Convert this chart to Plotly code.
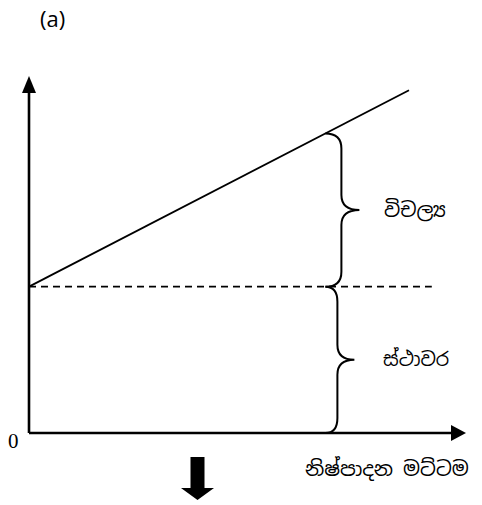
import plotly.graph_objects as go

# ---- data (abstract cost model) ----
output_levels = [0, 10]          # output range of the total cost line
fixed_cost = 4.1                 # fixed cost level
variable_cost_per_unit = 0.55    # slope of total cost line
dashed_end = 10.6                # extent of the fixed-cost dashed line
marked_output = 7.8              # output level at which braces are drawn
x_axis_max = 11.5
y_axis_max = 10.0
label_variable = "විචල්‍ය"
label_fixed = "ස්ථාවර"
label_x = "නිෂ්පාදන මට්ටම"
label_panel = "(a)"
label_origin = "0"

total_cost = [fixed_cost + variable_cost_per_unit * q for q in output_levels]
tc_marked = fixed_cost + variable_cost_per_unit * marked_output

# ---- style constants (pixel-to-unit scales) ----
PX_X = 38.0     # px per x unit
PX_Y = 35.7     # px per y unit
W, H = 482, 505
X0_PX, Y0_PX = 29, 433
x_range = [-X0_PX / PX_X, (W - X0_PX) / PX_X]
y_range = [-(H - Y0_PX) / PX_Y, Y0_PX / PX_Y]

def ux(px):
    return px / PX_X

def uy(px):
    return px / PX_Y

fig = go.Figure()

# axes lines
fig.add_trace(go.Scatter(x=[0, 0], y=[0, y_axis_max - uy(16)], mode="lines",
                         line=dict(color="black", width=2.6), hoverinfo="skip"))
fig.add_trace(go.Scatter(x=[0, x_axis_max - ux(14)], y=[0, 0], mode="lines",
                         line=dict(color="black", width=2.6), hoverinfo="skip"))
# total cost line
fig.add_trace(go.Scatter(x=output_levels, y=total_cost, mode="lines",
                         line=dict(color="black", width=1.8), hoverinfo="skip"))
# fixed cost dashed line
fig.add_trace(go.Scatter(x=[0, dashed_end], y=[fixed_cost, fixed_cost], mode="lines",
                         line=dict(color="black", width=1.6, dash="7px,5px"), hoverinfo="skip"))

shapes = []
# arrowheads
ah_w = ux(7)
ah_h = uy(17)
shapes.append(dict(type="path", xref="x", yref="y",
                   path=f"M {-ah_w},{y_axis_max-ah_h} L {ah_w},{y_axis_max-ah_h} L 0,{y_axis_max} Z",
                   fillcolor="black", line=dict(width=0)))
ax_h = uy(8)
ax_w = ux(15)
shapes.append(dict(type="path", xref="x", yref="y",
                   path=f"M {x_axis_max-ax_w},{-ax_h} L {x_axis_max-ax_w},{ax_h} L {x_axis_max},0 Z",
                   fillcolor="black", line=dict(width=0)))


def brace(x0, y_top, y_bot, bar_px, tip_px, curl_px=15):
    xb = x0 + ux(bar_px)
    xt = x0 + ux(tip_px)
    r = uy(curl_px)
    ym = (y_top + y_bot) / 2
    return (f"M {x0},{y_top} Q {xb},{y_top} {xb},{y_top - r} "
            f"L {xb},{ym + r} Q {xb},{ym} {xt},{ym} "
            f"Q {xb},{ym} {xb},{ym - r} "
            f"L {xb},{y_bot + r} Q {xb},{y_bot} {x0},{y_bot}")


shapes.append(dict(type="path", xref="x", yref="y",
                   path=brace(marked_output, tc_marked, fixed_cost, 16, 34),
                   line=dict(color="black", width=2)))
shapes.append(dict(type="path", xref="x", yref="y",
                   path=brace(marked_output, fixed_cost, 0, 12, 29),
                   line=dict(color="black", width=2)))

# thick down arrow below the chart
da_x = ux(197.5 - X0_PX)
sw = ux(7)
hw = ux(16.5)
y_top = -uy(457 - Y0_PX)
y_mid = -uy(488 - Y0_PX)
y_tip = -uy(500 - Y0_PX)
shapes.append(dict(type="path", xref="x", yref="y",
                   path=(f"M {da_x-sw},{y_top} L {da_x+sw},{y_top} L {da_x+sw},{y_mid} "
                         f"L {da_x+hw},{y_mid} L {da_x},{y_tip} L {da_x-hw},{y_mid} "
                         f"L {da_x-sw},{y_mid} Z"),
                   fillcolor="black", line=dict(width=0)))

sinhala_font = "Noto Sans Sinhala, Iskoola Pota, Noto Sans, DejaVu Sans, sans-serif"
annotations = [
    dict(x=ux(415 - X0_PX), y=(tc_marked + fixed_cost) / 2, text=label_variable,
         showarrow=False, font=dict(family=sinhala_font, size=20, color="black")),
    dict(x=ux(416 - X0_PX), y=fixed_cost / 2, text=label_fixed,
         showarrow=False, font=dict(family=sinhala_font, size=19, color="black")),
    dict(x=ux(387 - X0_PX), y=-uy(469 - Y0_PX), text=label_x,
         showarrow=False, font=dict(family=sinhala_font, size=20, color="black")),
    dict(x=ux(52 - X0_PX), y=uy(Y0_PX - 18), text=label_panel,
         showarrow=False, font=dict(family="Open Sans, Liberation Sans, sans-serif", size=22, color="black")),
    dict(x=ux(13 - X0_PX), y=-uy(441 - Y0_PX), text=label_origin,
         showarrow=False, font=dict(family="Liberation Serif, serif", size=21, color="black")),
]

fig.update_layout(
    width=W, height=H,
    margin=dict(l=0, r=0, t=0, b=0),
    paper_bgcolor="white", plot_bgcolor="white",
    showlegend=False,
    shapes=shapes,
    annotations=annotations,
    xaxis=dict(range=x_range, visible=False, fixedrange=True),
    yaxis=dict(range=y_range, visible=False, fixedrange=True),
)

fig.write_html("out.html", config={"displayModeBar": False},
               post_script="document.body.style.margin='0';document.body.style.overflow='hidden';")
